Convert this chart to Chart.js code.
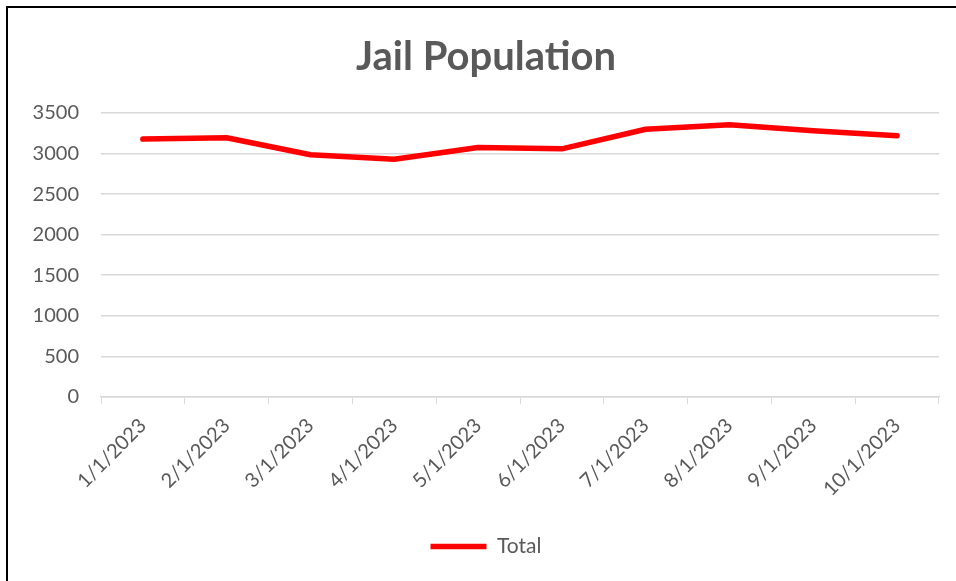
<!DOCTYPE html>
<html>
<head>
<meta charset="utf-8">
<script src="https://cdn.jsdelivr.net/npm/chart.js@4"></script>
<style>
  body { margin: 0; background: #fff; }
  #box { position: absolute; left: 6px; top: 6px; width: 952px; height: 580px; border: 2px solid #000; box-sizing: border-box; background: #fff; }
  #wrap { position: relative; width: 948px; height: 576px; }
</style>
</head>
<body>
<div id="box"><div id="wrap"><canvas id="grafico"></canvas></div></div>
<script>
const meses = ['1/1/2023', '2/1/2023', '3/1/2023', '4/1/2023', '5/1/2023', '6/1/2023', '7/1/2023', '8/1/2023', '9/1/2023', '10/1/2023'];
const total = [3178, 3195, 2985, 2930, 3074, 3058, 3300, 3355, 3281, 3219];
const yMin = 0;
const yMax = 3500;
const yPasso = 500;

const cinza = '#595959';
const grade = '#d9d9d9';
const fonte = 'Lato';

const grafico = new Chart(document.getElementById('grafico'), {
    type: 'line',
    data: {
        labels: meses,
        datasets: [{
            label: 'Total',
            data: total,
            borderColor: '#ff0000',
            backgroundColor: '#ff0000',
            borderWidth: 5.5,
            borderCapStyle: 'round',
            borderJoinStyle: 'round',
            pointRadius: 0,
            pointHoverRadius: 0,
            tension: 0
        }]
    },
    options: {
        responsive: true,
        maintainAspectRatio: false,
        animation: false,
        layout: { padding: { left: 25, right: 17, top: 18, bottom: 17 } },
        plugins: {
            title: {
                display: true,
                text: 'Jail Population',
                color: cinza,
                font: { family: fonte, size: 40, weight: 'bold' },
                padding: { top: 7, bottom: 32 }
            },
            legend: {
                position: 'bottom',
                labels: {
                    color: cinza,
                    font: { family: fonte, size: 21 },
                    usePointStyle: true,
                    pointStyle: 'line',
                    pointStyleWidth: 56,
                    boxWidth: 56,
                    padding: 10
                }
            },
            tooltip: { enabled: false }
        },
        scales: {
            x: {
                offset: true,
                grid: {
                    offset: true,
                    drawOnChartArea: false,
                    drawTicks: true,
                    tickLength: 7,
                    color: grade
                },
                border: { color: grade, width: 1.5 },
                ticks: {
                    color: cinza,
                    font: { family: fonte, size: 20 },
                    minRotation: 45,
                    maxRotation: 45,
                    padding: 10
                },
                // espaço extra entre as datas e a legenda
                afterFit: (escala) => { escala.height += 15; }
            },
            y: {
                min: yMin,
                max: yMax,
                grid: { color: grade, lineWidth: 1.5, drawTicks: false },
                border: { display: false },
                ticks: {
                    stepSize: yPasso,
                    color: cinza,
                    font: { family: fonte, size: 20 },
                    padding: 22,
                    callback: (valor) => String(valor)
                },
                afterFit: (escala) => { escala.width = 68; }
            }
        }
    }
});
</script>
</body>
</html>
